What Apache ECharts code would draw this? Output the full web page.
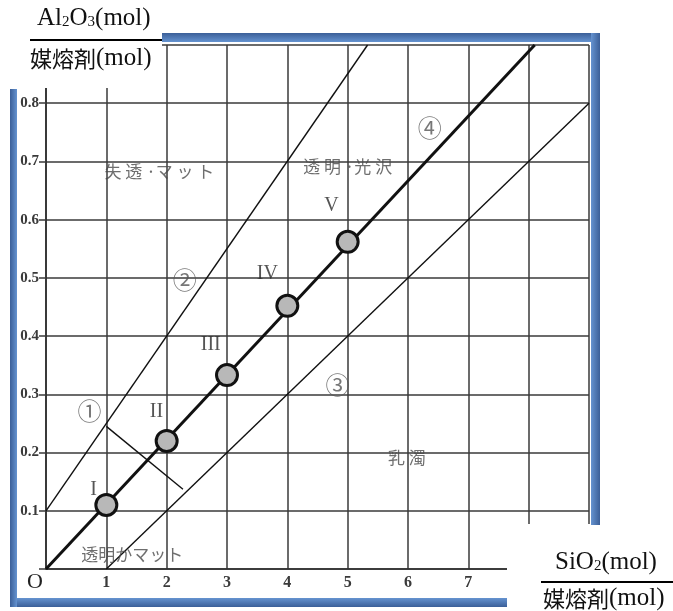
<!DOCTYPE html>
<html>
<head>
<meta charset="utf-8">
<script src="https://cdn.jsdelivr.net/npm/echarts@6/dist/echarts.min.js"></script>
<style>
  html, body { margin: 0; padding: 0; background: #fff; }
  #chart { width: 673px; height: 611px; }
</style>
</head>
<body>
<div id="chart"></div>
<script>
// SiO2 / flux (x) and Al2O3 / flux (y)
const samplePoints = [[1, 0.11], [2, 0.22], [3, 0.333], [4, 0.452], [5, 0.562]]
const line2 = [[0, 0.1], [5.33, 0.9]]
const line3 = [[1, 0], [9, 0.8]]
const line4 = [[0, 0], [8.1, 0.9]]
const crossLine = [[1, 0.245], [2.27, 0.137]]
const xTickLabels = ['', '1', '2', '3', '4', '5', '6', '7', '', '']
const yTickLabels = ['', '0.1', '0.2', '0.3', '0.4', '0.5', '0.6', '0.7', '0.8', '']

// annotation text, [x, y, text]
const circledNotes = [[0.72, 0.271, '①'], [2.3, 0.497, '②'], [4.83, 0.316, '③'], [6.36, 0.758, '④']]
const romanNotes = [[0.79, 0.136, 'I'], [1.83, 0.27, 'II'], [2.73, 0.385, 'III'], [3.67, 0.507, 'IV'], [4.73, 0.624, 'V']]
const regionNotes = [
  [1.88, 0.682, '失 透 ·マ ッ ト'],
  [5.0, 0.691, '透 明 ·光 沢'],
  [5.98, 0.191, '乳 濁'],
  [1.43, 0.024, '透明かマット']
]

let myChart = echarts.init(document.getElementById('chart'))

function noteSeries (data, font, size, color) {
  return {
    type: 'scatter',
    data: data,
    symbolSize: 0,
    silent: true,
    z: 5,
    label: {
      show: true,
      position: 'inside',
      formatter: p => p.data[2],
      fontFamily: font,
      fontSize: size,
      color: color
    }
  }
}

function lineSeries (data, width) {
  return {
    type: 'line',
    data: data,
    symbol: 'none',
    silent: true,
    lineStyle: { color: '#111', width: width }
  }
}

const blueV = { type: 'linear', x: 0, y: 0, x2: 1, y2: 0, colorStops: [{ offset: 0, color: '#3b5f98' }, { offset: 1, color: '#6593d0' }] }
const blueVr = { type: 'linear', x: 0, y: 0, x2: 1, y2: 0, colorStops: [{ offset: 0, color: '#6593d0' }, { offset: 1, color: '#3b5f98' }] }
const blueH = { type: 'linear', x: 0, y: 0, x2: 0, y2: 1, colorStops: [{ offset: 0, color: '#3b5f98' }, { offset: 1, color: '#6593d0' }] }
const blueHb = { type: 'linear', x: 0, y: 0, x2: 0, y2: 1, colorStops: [{ offset: 0, color: '#6593d0' }, { offset: 1, color: '#3b5f98' }] }

const option = {
  animation: false,
  backgroundColor: '#fff',
  grid: { left: 46, right: 84, top: 45, bottom: 42 },
  xAxis: {
    type: 'value',
    min: 0,
    max: 9,
    interval: 1,
    axisLine: { show: true, lineStyle: { color: '#2e2e2e', width: 1.6 } },
    axisTick: { show: false },
    axisLabel: {
      margin: 6,
      fontFamily: 'Liberation Serif',
      fontSize: 16,
      fontWeight: 'bold',
      color: '#3a3a3a',
      formatter: (v, i) => xTickLabels[i]
    },
    splitLine: { show: true, lineStyle: { color: '#3a3a3a', width: 1.5 } }
  },
  yAxis: {
    type: 'value',
    min: 0,
    max: 0.9,
    interval: 0.1,
    axisLine: { show: true, lineStyle: { color: '#2e2e2e', width: 1.6 } },
    axisTick: { show: true, length: 7, lineStyle: { color: '#3a3a3a', width: 1.5 } },
    axisLabel: {
      margin: 7,
      fontFamily: 'Liberation Serif',
      fontSize: 15,
      fontWeight: 'bold',
      color: '#3a3a3a',
      formatter: (v, i) => yTickLabels[i]
    },
    splitLine: { show: true, lineStyle: { color: '#3a3a3a', width: 1.5 } }
  },
  series: [
    lineSeries(line2, 1.4),
    lineSeries(line3, 1.4),
    lineSeries(crossLine, 1.4),
    lineSeries(line4, 3),
    {
      type: 'scatter',
      data: samplePoints,
      symbol: 'circle',
      symbolSize: 21,
      silent: true,
      z: 4,
      itemStyle: { color: '#b8b8b8', borderColor: '#111', borderWidth: 3, opacity: 1 }
    },
    noteSeries(circledNotes, 'Noto Sans CJK JP', 24, '#555'),
    noteSeries(romanNotes, 'Liberation Serif', 20, '#2a2a2a'),
    noteSeries(regionNotes, 'Noto Sans CJK JP', 17, '#4a4a4a')
  ],
  graphic: [
    // white boxes holding the axis names
    { type: 'rect', z: 100, shape: { x: 0, y: 0, width: 162, height: 88 }, style: { fill: '#fff' } },
    { type: 'rect', z: 100, shape: { x: 507, y: 524, width: 166, height: 87 }, style: { fill: '#fff' } },
    // blue frame
    { type: 'rect', z: 101, shape: { x: 162, y: 33, width: 438, height: 9 }, style: { fill: blueH } },
    { type: 'rect', z: 101, shape: { x: 591, y: 33, width: 9, height: 492 }, style: { fill: blueVr } },
    { type: 'rect', z: 101, shape: { x: 10, y: 598, width: 497, height: 9 }, style: { fill: blueHb } },
    { type: 'rect', z: 101, shape: { x: 10, y: 89, width: 7, height: 518 }, style: { fill: blueV } },
    // axis names
    { type: 'text', z: 102, left: 37, top: 6, style: { text: '{a|Al}{s|2}{a|O}{s|3}{a|(mol)}', rich: { a: { fontFamily: 'Liberation Serif', fontSize: 25, fill: '#111' }, s: { fontFamily: 'Liberation Serif', fontSize: 15, fill: '#111', padding: [8, 0, 0, 0] } } } },
    { type: 'line', z: 102, shape: { x1: 30, y1: 40, x2: 162, y2: 40 }, style: { stroke: '#000', lineWidth: 2 } },
    { type: 'text', z: 102, left: 30, top: 46, style: { text: '{c|媒熔剤}{a|(mol)}', rich: { c: { fontFamily: 'Noto Sans CJK JP', fontSize: 22, fill: '#111' }, a: { fontFamily: 'Liberation Serif', fontSize: 25, fill: '#111' } } } },
    { type: 'text', z: 102, left: 555, top: 550, style: { text: '{a|SiO}{s|2}{a|(mol)}', rich: { a: { fontFamily: 'Liberation Serif', fontSize: 25, fill: '#111' }, s: { fontFamily: 'Liberation Serif', fontSize: 15, fill: '#111', padding: [8, 0, 0, 0] } } } },
    { type: 'line', z: 102, shape: { x1: 541, y1: 582, x2: 673, y2: 582 }, style: { stroke: '#000', lineWidth: 2 } },
    { type: 'text', z: 102, left: 543, top: 586, style: { text: '{c|媒熔剤}{a|(mol)}', rich: { c: { fontFamily: 'Noto Sans CJK JP', fontSize: 22, fill: '#111' }, a: { fontFamily: 'Liberation Serif', fontSize: 25, fill: '#111' } } } },
    // origin mark
    { type: 'text', z: 102, left: 27, top: 571, style: { text: 'O', fontFamily: 'Liberation Serif', fontSize: 22, fill: '#222' } }
  ]
}

myChart.setOption(option)
</script>
</body>
</html>
